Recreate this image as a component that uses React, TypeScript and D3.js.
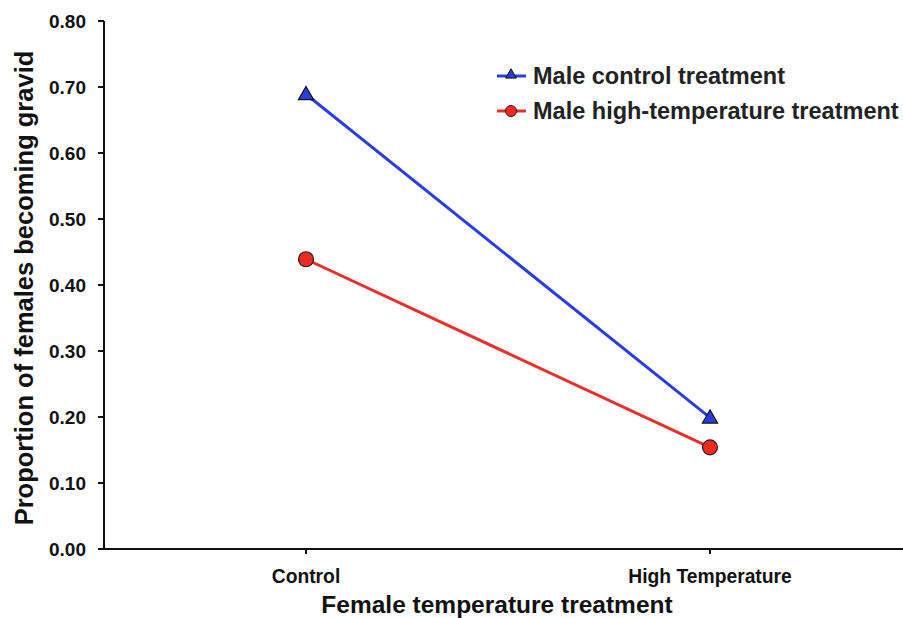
import React from 'react'
import * as d3 from 'd3'

const categories = ['Control', 'High Temperature']
const maleControl = [0.689, 0.199]
const maleHighTemp = [0.439, 0.154]
const yTicks = [0, 0.1, 0.2, 0.3, 0.4, 0.5, 0.6, 0.7, 0.8]
const seriesNames = ['Male control treatment', 'Male high-temperature treatment']

const W = 903
const H = 618
const left = 104
const top = 21
const bottom = 549
const font = 'Liberation Sans, Arial, sans-serif'

export default function App() {
  const y = d3.scaleLinear().domain([0, 0.8]).range([bottom, top])
  const x = d3.scalePoint<string>().domain(categories).range([306, 710])

  const line = d3.line<number>()
    .x((_, i) => x(categories[i]) as number)
    .y(d => y(d))

  const tri = d3.symbol().type(d3.symbolTriangle).size(100)()
  const triSmall = d3.symbol().type(d3.symbolTriangle).size(50)()

  return (
    <div style={{position: 'fixed', left: 0, top: 0}}>
      <svg width={W} height={H} style={{display: 'block', background: '#fff'}}>
        {/* axes */}
        <line x1={left} x2={left} y1={top} y2={bottom} stroke="#111" strokeWidth={2} />
        <line x1={left - 1} x2={W} y1={bottom} y2={bottom} stroke="#111" strokeWidth={2} />
        {yTicks.map(t => (
          <g key={t}>
            <line x1={left - 6} x2={left} y1={y(t)} y2={y(t)} stroke="#111" strokeWidth={2} />
            <text x={86} y={y(t)} dy="0.36em" textAnchor="end" fontFamily={font}
              fontWeight="bold" fontSize={19} fill="#111">{t.toFixed(2)}</text>
          </g>
        ))}
        {categories.map(c => (
          <g key={c}>
            <line x1={x(c)} x2={x(c)} y1={bottom} y2={bottom + 5} stroke="#111" strokeWidth={2} />
            <text x={x(c)} y={583} textAnchor="middle" fontFamily={font}
              fontWeight="bold" fontSize={19.3} fill="#111">{c}</text>
          </g>
        ))}
        <text x={497} y={613} textAnchor="middle" fontFamily={font} fontWeight="bold"
          fontSize={24.5} fill="#111">Female temperature treatment</text>
        <text transform={`translate(33,288) rotate(-90)`} textAnchor="middle"
          fontFamily={font} fontWeight="bold" fontSize={25.5} fill="#111">
          Proportion of females becoming gravid
        </text>

        {/* series */}
        <path d={line(maleControl) as string} fill="none" stroke="#2a3ee0" strokeWidth={3} />
        <path d={line(maleHighTemp) as string} fill="none" stroke="#e8302a" strokeWidth={3} />
        {maleControl.map((v, i) => (
          <path key={'t' + i} d={tri as string}
            transform={`translate(${x(categories[i])},${y(v) + 1})`}
            fill="#2a3ee0" stroke="#111" strokeWidth={1.2} />
        ))}
        {maleHighTemp.map((v, i) => (
          <circle key={'c' + i} cx={x(categories[i])} cy={y(v)} r={7.5}
            fill="#f02a20" stroke="#222" strokeWidth={1.2} />
        ))}

        {/* legend */}
        <g>
          <line x1={497} x2={526} y1={76} y2={76} stroke="#2a3ee0" strokeWidth={3} />
          <path d={triSmall as string} transform="translate(511,75)" fill="#2a3ee0" stroke="#111" strokeWidth={1} />
          <text x={533} y={84} fontFamily={font} fontWeight="bold" fontSize={23.5} fill="#222">{seriesNames[0]}</text>
          <line x1={497} x2={526} y1={111} y2={111} stroke="#e8302a" strokeWidth={3} />
          <circle cx={511} cy={111} r={5.5} fill="#f02a20" stroke="#222" strokeWidth={1} />
          <text x={533} y={119} fontFamily={font} fontWeight="bold" fontSize={23.5} fill="#222">{seriesNames[1]}</text>
        </g>
      </svg>
    </div>
  )
}
